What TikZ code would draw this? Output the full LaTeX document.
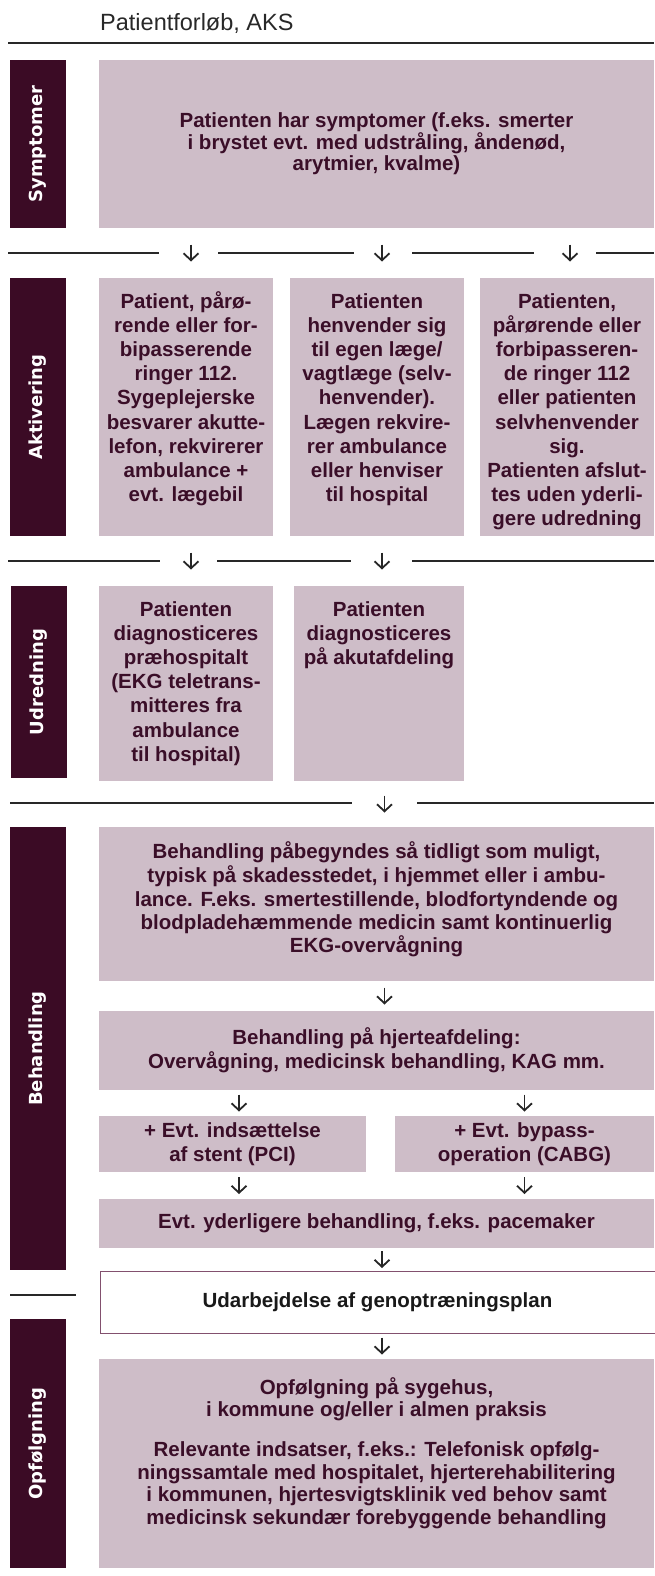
\documentclass[tikz,border=0pt]{standalone}
\usepackage{fontspec}
\setmainfont{Liberation Sans}
\newfontfamily\labelfont{DejaVu Sans}
\usetikzlibrary{arrows.meta,calc}

\definecolor{barcol}{RGB}{59,11,37}
\definecolor{boxcol}{RGB}{206,189,200}
\definecolor{txtcol}{RGB}{58,14,40}
\definecolor{rulecol}{RGB}{40,40,40}
\definecolor{framecol}{RGB}{130,80,110}

\tikzset{
  phase/.style={fill=barcol, text=white, rotate=90, inner sep=0pt, outer sep=0pt,
    minimum height=56pt, font=\labelfont\bfseries\fontsize{18}{20}\selectfont},
  box/.style={fill=boxcol, text=txtcol, anchor=north west, inner sep=0pt, outer sep=0pt,
    align=center, font=\bfseries\fontsize{20.5}{24.2}\selectfont},
  boxtext/.style={text=txtcol, anchor=north, inner sep=0pt, align=center,
    font=\bfseries\fontsize{20.5}{24.2}\selectfont},
  rule/.style={draw=rulecol, line width=2.2pt},
  arr/.style={draw=black!85, line width=1.8pt, -{Straight Barb[length=7pt,width=15pt]}},
}
% small down arrow centred in the gap between two boxes
\newcommand{\gaparr}[4][0]{\draw[arr] ($(#2 |- #3)!.5!(#2 |- #4)+(#1,-8.5)$) -- ++(0,17);}

\begin{document}
\begin{tikzpicture}[x=1pt, y=-1pt]
  \useasboundingbox (0,0) rectangle (654,1576);
  % Heading
  \node[anchor=base west, inner sep=0pt, text=rulecol, font=\fontsize{23.5}{26}\selectfont] (title) at (100,31) {Patientforløb, AKS};
  \draw[rule] (8,43) -- (654,43);

  % Symptomer
  \node[phase, minimum width=168pt] (psym) at (38,144) {Symptomer};
  \node[box, minimum width=555pt, minimum height=168pt, font=\bfseries\fontsize{20.5}{21.5}\selectfont] (sym) at (99,60)
    {Patienten har symptomer (f.eks. smerter\\i brystet evt. med udstråling, åndenød,\\arytmier, kvalme)};
  \draw[rule] (8,253) -- (159,253) (218,253) -- (354,253) (412,253) -- (534,253) (596,253) -- (654,253);

  % Aktivering
  \node[phase, minimum width=258pt] (pakt) at (38,407) {Aktivering};
  \node[box, minimum width=174pt, minimum height=258pt] (akt1) at (99,278) {};
  \node[box, minimum width=174pt, minimum height=258pt] (akt2) at (290,278) {};
  \node[box, minimum width=174pt, minimum height=258pt] (akt3) at (480,278) {};
  \node[boxtext] (akt1t) at ([yshift=-13pt]akt1.north)
    {\strut Patient, pårø-\\rende eller for-\\bipasserende\\ringer 112.\\Sygeplejerske\\besvarer akutte-\\lefon, rekvirerer\\ambulance +\\evt. lægebil};
  \node[boxtext] (akt2t) at ([yshift=-13pt]akt2.north)
    {\strut Patienten\\henvender sig\\til egen læge/\\vagtlæge (selv-\\henvender).\\Lægen rekvire-\\rer ambulance\\eller henviser\\til hospital};
  \node[boxtext] (akt3t) at ([yshift=-13pt]akt3.north)
    {\strut Patienten,\\pårørende eller\\forbipasseren-\\de ringer 112\\eller patienten\\selvhenvender\\sig.\\Patienten afslut-\\tes uden yderli-\\gere udredning};
  \gaparr[5]{akt1}{sym.south}{akt1.north}
  \gaparr[5]{akt2}{sym.south}{akt2.north}
  \gaparr[3]{akt3}{sym.south}{akt3.north}
  \draw[rule] (8,561) -- (160,561) (217,561) -- (351,561) (412,561) -- (654,561);

  % Udredning
  \node[phase, minimum width=192pt] (pudr) at (38.5,682) {Udredning};
  \node[box, minimum width=174pt, minimum height=195pt] (udr1) at (99,586) {};
  \node[box, minimum width=170pt, minimum height=195pt] (udr2) at (294,586) {};
  \node[boxtext] (udr1t) at ([yshift=-13pt]udr1.north)
    {\strut Patienten\\diagnosticeres\\præhospitalt\\(EKG teletrans-\\mitteres fra\\ambulance\\til hospital)};
  \node[boxtext] (udr2t) at ([yshift=-13pt]udr2.north)
    {\strut Patienten\\diagnosticeres\\på akutafdeling};
  \gaparr[5]{udr1}{akt1.south}{udr1.north}
  \gaparr[3]{udr2}{akt2.south}{udr2.north}
  \draw[rule] (10,803) -- (352,803) (417,803) -- (654,803);

  % Behandling
  \node[phase, minimum width=443pt] (pbeh) at (38,1048.5) {Behandling};
  \node[box, minimum width=555pt, minimum height=154pt] (beh1) at (99,827) {};
  \node[boxtext, font=\bfseries\fontsize{20.5}{23.3}\selectfont] (beh1t) at ([yshift=-14pt]beh1.north)
    {\strut Behandling påbegyndes så tidligt som muligt,\\typisk på skadesstedet, i hjemmet eller i ambu-\\lance. F.eks. smertestillende, blodfortyndende og\\blodpladehæmmende medicin samt kontinuerlig\\EKG-overvågning};
  \node[box, minimum width=555pt, minimum height=79pt] (beh2) at (99,1011)
    {Behandling på hjerteafdeling:\\Overvågning, medicinsk behandling, KAG mm.};
  \node[box, minimum width=267pt, minimum height=56pt] (pci) at (99,1116)
    {+ Evt. indsættelse\\af stent (PCI)};
  \node[box, minimum width=259pt, minimum height=56pt] (cabg) at (395,1116)
    {+ Evt. bypass-\\operation (CABG)};
  \node[box, minimum width=555pt, minimum height=49pt] (evt) at (99,1199)
    {Evt. yderligere behandling, f.eks. pacemaker};
  \gaparr[8]{beh1}{udr1.south}{beh1.north}
  \gaparr[8]{beh2}{beh1.south}{beh2.north}
  \gaparr[6.5]{pci}{beh2.south}{pci.north}
  \gaparr{cabg}{beh2.south}{cabg.north}
  \gaparr[6.5]{pci}{pci.south}{evt.north}
  \gaparr{cabg}{cabg.south}{evt.north}

  % Genoptraening
  \node[box, fill=white, draw=framecol, line width=1pt, text=black!90, minimum width=555pt, minimum height=62pt] (udarb) at (100,1271)
    {Udarbejdelse af genoptræningsplan};
  \gaparr[5.5]{evt}{evt.south}{udarb.north}
  \draw[rule] (10,1295) -- (76,1295);

  % Opfoelgning
  \node[phase, minimum width=249pt] (popf) at (38,1443.5) {Opfølgning};
  \node[box, minimum width=555pt, minimum height=209pt] (opf) at (99,1359) {};
  \node[boxtext, font=\bfseries\fontsize{20.5}{22.5}\selectfont] (opft) at ([yshift=-18pt]opf.north)
    {\strut Opfølgning på sygehus,\\i kommune og/eller i almen praksis\\[17.5pt]Relevante indsatser, f.eks.: Telefonisk opfølg-\\ningssamtale med hospitalet, hjerterehabilitering\\i kommunen, hjertesvigtsklinik ved behov samt\\medicinsk sekundær forebyggende behandling};
  \gaparr[5.5]{opf}{udarb.south}{opf.north}
\end{tikzpicture}
\end{document}
